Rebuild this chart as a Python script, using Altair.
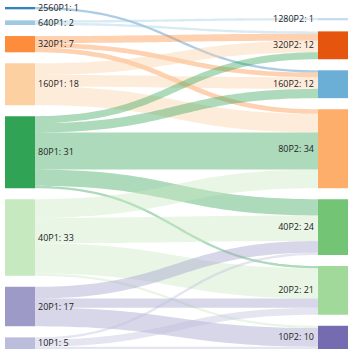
import altair as alt
import pandas as pd
import numpy as np

# ---- data ----
left_nodes = ["2560P1", "640P1", "320P1", "160P1", "80P1", "40P1", "20P1", "10P1"]
right_nodes = ["1280P2", "320P2", "160P2", "80P2", "40P2", "20P2", "10P2"]

link_source = ["2560P1", "640P1", "640P1", "320P1", "320P1", "320P1",
               "160P1", "160P1", "160P1",
               "80P1", "80P1", "80P1", "80P1", "80P1",
               "40P1", "40P1", "40P1", "40P1",
               "20P1", "20P1", "20P1",
               "10P1", "10P1", "10P1"]
link_target = ["160P2", "1280P2", "320P2", "320P2", "160P2", "80P2",
               "320P2", "160P2", "80P2",
               "320P2", "160P2", "80P2", "40P2", "20P2",
               "80P2", "40P2", "20P2", "10P2",
               "40P2", "20P2", "10P2",
               "40P2", "20P2", "10P2"]
link_value = [1, 1, 1, 3, 2, 2,
              5, 5, 8,
              3, 4, 16, 7, 1,
              8, 11, 13, 1,
              5, 4, 8,
              1, 3, 1]

node_names = ["2560P1", "160P2", "640P1", "1280P2", "320P2", "320P1", "80P2", "160P1",
              "80P1", "40P2", "20P2", "40P1", "10P2", "20P1", "10P1"]
node_palette = ["#3182bd", "#6baed6", "#9ecae1", "#c6dbef", "#e6550d", "#fd8d3c", "#fdae6b", "#fdd0a2",
                "#31a354", "#74c476", "#a1d99b", "#c7e9c0", "#756bb1", "#9e9ac8", "#bcbddc"]

# ---- layout (computed from the data) ----
W, H = 343, 342
PAD = 4.75            # node gap, in value units
NODE_W = 30 / W       # node width as fraction of x domain

node_value = {}
for s, t, v in zip(link_source, link_target, link_value):
    node_value[s] = node_value.get(s, 0) + v
    node_value[t] = node_value.get(t, 0) + v
for n in left_nodes:
    node_value[n] = sum(v for s, v in zip(link_source, link_value) if s == n)
for n in right_nodes:
    node_value[n] = sum(v for t, v in zip(link_target, link_value) if t == n)

total = sum(node_value[n] for n in left_nodes)
extent = total + PAD * (len(left_nodes) - 1)
ky = H / extent

node_rows = []
pos = {}
for col, names in ((0, left_nodes), (1, right_nodes)):
    col_len = sum(node_value[n] for n in names) + PAD * (len(names) - 1)
    y = extent - col_len
    for n in names:
        x0 = 0.0 if col == 0 else 1.0 - NODE_W
        pos[n] = (col, y, y + node_value[n], x0, x0 + NODE_W)
        node_rows.append(dict(name=n, x0=x0, x1=x0 + NODE_W, y0=y, y1=y + node_value[n],
                              ym=y + node_value[n] / 2, side="left" if col == 0 else "right",
                              label=f"{n}: {node_value[n]}"))
        y += node_value[n] + PAD
nodes_df = pd.DataFrame(node_rows)

order_idx = {n: i for i, n in enumerate(left_nodes)}
order_idx.update({n: i for i, n in enumerate(right_nodes)})

links = list(zip(link_source, link_target, link_value))
src_off = {}
tgt_off = {}
for n in left_nodes:
    out = sorted([l for l in links if l[0] == n], key=lambda l: order_idx[l[1]])
    y = pos[n][1]
    for l in out:
        src_off[l] = y + l[2] / 2
        y += l[2]
for n in right_nodes:
    inc = sorted([l for l in links if l[1] == n], key=lambda l: order_idx[l[0]])
    y = pos[n][1]
    for l in inc:
        tgt_off[l] = y + l[2] / 2
        y += l[2]

rows = []
ts = np.linspace(0, 1, 60)
for i, l in enumerate(links):
    x0 = NODE_W
    x1 = 1.0 - NODE_W
    xm = (x0 + x1) / 2
    y0 = src_off[l]
    y1 = tgt_off[l]
    for k, t in enumerate(ts):
        a, b, c, d = (1 - t) ** 3, 3 * (1 - t) ** 2 * t, 3 * (1 - t) * t ** 2, t ** 3
        rows.append(dict(link=i, k=k, source=l[0], value=l[2],
                         x=a * x0 + b * xm + c * xm + d * x1,
                         y=a * y0 + b * y0 + c * y1 + d * y1))
links_df = pd.DataFrame(rows)

xs = alt.Scale(domain=[0, 1])
ys = alt.Scale(domain=[0, extent], reverse=True)
cs = alt.Scale(domain=node_names, range=node_palette)

link_layer = alt.Chart(links_df).mark_line(strokeCap="butt", strokeOpacity=0.4).encode(
    x=alt.X("x:Q", scale=xs, axis=None),
    y=alt.Y("y:Q", scale=ys, axis=None),
    detail="link:N",
    order="k:Q",
    stroke=alt.Stroke("source:N", scale=cs, legend=None),
    strokeWidth=alt.StrokeWidth("value:Q", scale=alt.Scale(domain=[0, 1], range=[0, ky], zero=True), legend=None),
)

node_layer = alt.Chart(nodes_df).mark_rect().encode(
    x=alt.X("x0:Q", scale=xs, axis=None), x2="x1:Q",
    y=alt.Y("y0:Q", scale=ys, axis=None), y2="y1:Q",
    fill=alt.Fill("name:N", scale=cs, legend=None),
)

left_lbl = alt.Chart(nodes_df).transform_filter(alt.datum.side == "left").mark_text(
    align="left", baseline="middle", dx=3, font="Open Sans", fontSize=9, color="#222"
).encode(x=alt.X("x1:Q", scale=xs, axis=None), y=alt.Y("ym:Q", scale=ys, axis=None), text="label:N")

right_lbl = alt.Chart(nodes_df).transform_filter(alt.datum.side == "right").mark_text(
    align="right", baseline="middle", dx=-4, font="Open Sans", fontSize=9, color="#222"
).encode(x=alt.X("x0:Q", scale=xs, axis=None), y=alt.Y("ym:Q", scale=ys, axis=None), text="label:N")

chart = alt.layer(link_layer, node_layer, left_lbl, right_lbl).properties(
    width=W, height=H,
    padding={"left": 5, "right": 9, "top": 7, "bottom": 7},
    autosize=alt.AutoSizeParams(type="none"),
).configure_view(stroke=None)

chart.save("out.html", embed_options={"renderer": "svg", "actions": False})
